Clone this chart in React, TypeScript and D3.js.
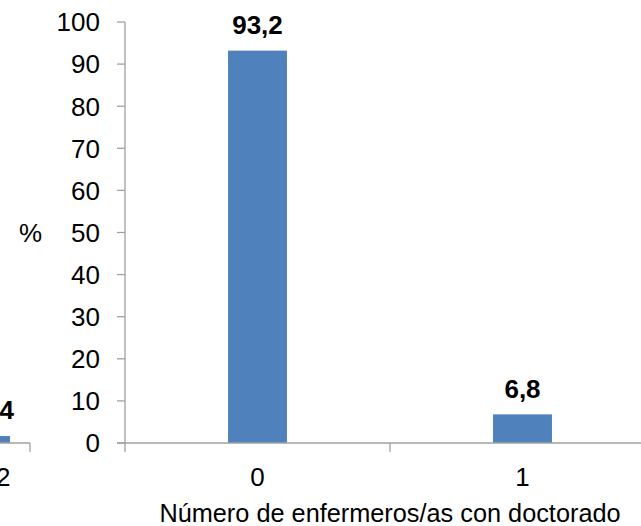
import React from "react";
import * as d3 from "d3";

const categories = ["0", "1"];
const values = [93.2, 6.8];
const valueLabels = ["93,2", "6,8"];
const yTicks = [0, 10, 20, 30, 40, 50, 60, 70, 80, 90, 100];
const axisTitle = "Número de enfermeros/as con doctorado";
const yTitle = "%";

// fragment of neighbouring chart cut off at the left edge
const leftCategories = ["2"];
const leftValues = [1.65];
const leftValueLabels = ["4"];

const W = 641;
const H = 526;
const FONT = "'Liberation Sans', Arial, Helvetica, sans-serif";
const BLUE = "#4F81BD";
const GRAY = "#A0A0A0";

export default function App() {
  const plotLeft = 125;
  const plotRight = 655;
  const y0 = 443;
  const yTop = 22;

  const y = d3.scaleLinear().domain([0, 100]).range([y0, yTop]);
  const x = d3
    .scaleBand<string>()
    .domain(categories)
    .range([plotLeft, plotRight])
    .paddingInner(0.7777)
    .paddingOuter(0.38885);

  // left fragment scale
  const xl = d3.scaleBand<string>().domain(leftCategories).range([-60, 30]).paddingInner(0).paddingOuter(0);

  return (
    <svg
      width={W}
      height={H}
      style={{ position: "absolute", left: 0, top: 0, background: "#fff" }}
      fontFamily={FONT}
    >
      {/* left fragment */}
      {leftCategories.map((c, i) => (
        <g key={"l" + c}>
          <rect x={-40} y={y(leftValues[i])} width={50} height={y0 - y(leftValues[i])} fill={BLUE} />
          <text x={14} y={y(leftValues[i]) - 17} textAnchor="end" fontSize={26} fontWeight="bold" fill="#000">
            {leftValueLabels[i]}
          </text>
          <text x={10.5} y={486} textAnchor="end" fontSize={26} fill="#000">
            {c}
          </text>
        </g>
      ))}
      <line x1={xl.range()[0]} x2={30} y1={y0} y2={y0} stroke={GRAY} strokeWidth={1.3} />
      <line x1={30} x2={30} y1={y0} y2={452} stroke={GRAY} strokeWidth={1.3} />

      {/* bars */}
      {categories.map((c, i) => (
        <rect
          key={c}
          x={x(c)}
          y={y(values[i])}
          width={x.bandwidth()}
          height={y0 - y(values[i])}
          fill={BLUE}
        />
      ))}

      {/* y axis */}
      <line x1={plotLeft} x2={plotLeft} y1={yTop} y2={452} stroke={GRAY} strokeWidth={1.3} />
      {yTicks.map((t) => (
        <g key={t}>
          <line x1={117} x2={plotLeft} y1={y(t)} y2={y(t)} stroke={GRAY} strokeWidth={1.3} />
          <text x={100} y={y(t)} dy="0.36em" textAnchor="end" fontSize={26} fill="#000">
            {t}
          </text>
        </g>
      ))}

      {/* x axis */}
      <line x1={117} x2={W} y1={y0} y2={y0} stroke={GRAY} strokeWidth={1.3} />
      {[plotLeft + (plotRight - plotLeft) / 2].map((tx) => (
        <line key={tx} x1={tx} x2={tx} y1={y0} y2={452} stroke={GRAY} strokeWidth={1.3} />
      ))}
      {categories.map((c) => (
        <text key={c} x={(x(c) ?? 0) + x.bandwidth() / 2} y={486} textAnchor="middle" fontSize={26} fill="#000">
          {c}
        </text>
      ))}

      {/* value labels */}
      {categories.map((c, i) => (
        <text
          key={"v" + c}
          x={(x(c) ?? 0) + x.bandwidth() / 2}
          y={y(values[i]) - 16.5}
          textAnchor="middle"
          fontSize={26}
          fontWeight="bold"
          fill="#000"
        >
          {valueLabels[i]}
        </text>
      ))}

      {/* titles */}
      <text x={30.5} y={233} dy="0.36em" textAnchor="middle" fontSize={26} fill="#000">
        {yTitle}
      </text>
      <text x={(plotLeft + plotRight) / 2} y={522} textAnchor="middle" fontSize={25.3} fill="#000">
        {axisTitle}
      </text>
    </svg>
  );
}
